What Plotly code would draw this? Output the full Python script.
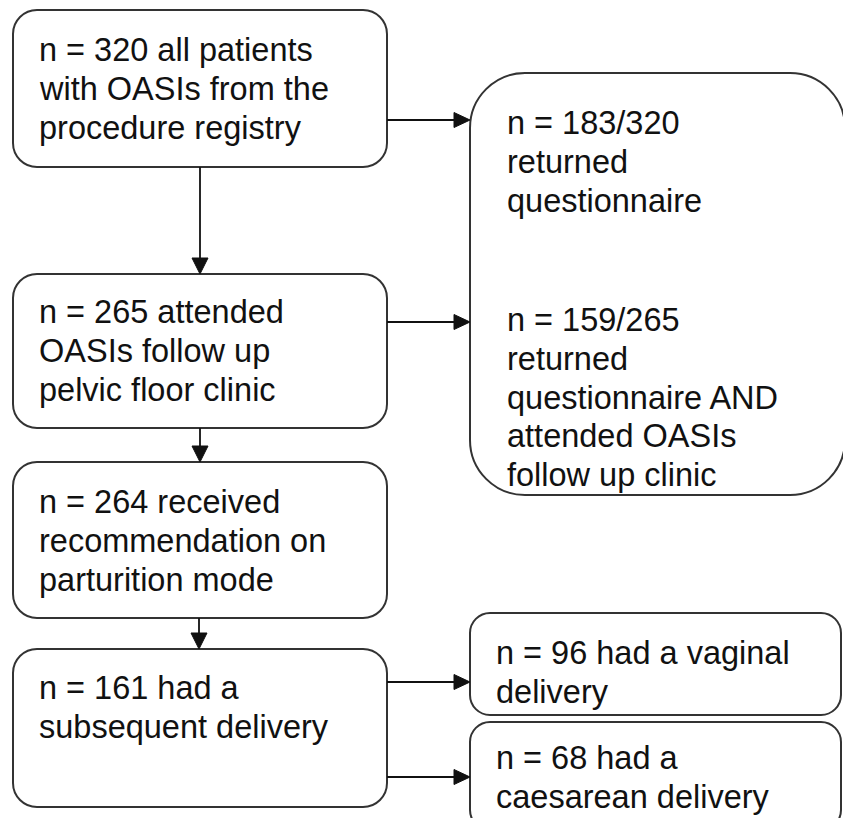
import plotly.graph_objects as go

# ---- data: flowchart content ----
main_texts = [
    ["n = 320 all patients", "with OASIs from the", "procedure registry"],
    ["n = 265 attended", "OASIs follow up", "pelvic floor clinic"],
    ["n = 264 received", "recommendation on", "parturition mode"],
    ["n = 161 had a", "subsequent delivery"],
]
side_texts_q = [
    ["n = 183/320", "returned", "questionnaire"],
    ["n = 159/265", "returned", "questionnaire AND", "attended OASIs", "follow up clinic"],
]
delivery_texts = [
    ["n = 96 had a vaginal", "delivery"],
    ["n = 68 had a", "caesarean delivery"],
]

# ---- layout geometry (pixels, y downward) ----
W, H = 843, 818
main_boxes = [(13, 10, 387, 167), (13, 274, 387, 428), (13, 462, 387, 618), (13, 649, 387, 807)]
main_first_line = [50, 312, 502, 688]
big_box = (470, 73, 845, 495)
big_lines_start = [123, 320]
deliv_boxes = [(470, 613, 841, 715), (470, 722, 841, 830)]
deliv_first_line = [653, 758]
LH = 38.8
FONT = dict(family="Liberation Sans, Arial, sans-serif", size=32.5, color="#111111")
LINE = "#333333"

fig = go.Figure()
shapes = []
annotations = []


def rrect(x0, y0, x1, y1, r):
    k = 0.5523 * r
    return (f"M {x0+r},{y0} L {x1-r},{y0} C {x1-r+k},{y0} {x1},{y0+r-k} {x1},{y0+r} "
            f"L {x1},{y1-r} C {x1},{y1-r+k} {x1-r+k},{y1} {x1-r},{y1} "
            f"L {x0+r},{y1} C {x0+r-k},{y1} {x0},{y1-r+k} {x0},{y1-r} "
            f"L {x0},{y0+r} C {x0},{y0+r-k} {x0+r-k},{y0} {x0+r},{y0} Z")


def add_box(b, r):
    shapes.append(dict(type="path", path=rrect(*b, r), xref="x", yref="y",
                       line=dict(color=LINE, width=2), fillcolor="rgba(0,0,0,0)", layer="above"))


def add_text(lines, x, y0):
    for i, t in enumerate(lines):
        annotations.append(dict(x=x, y=y0 + i * LH, xref="x", yref="y", text=t, showarrow=False,
                                xanchor="left", yanchor="middle", font=FONT))


def arrow_h(x0, x1, y):
    shapes.append(dict(type="line", x0=x0, x1=x1 - 14, y0=y, y1=y, xref="x", yref="y",
                       line=dict(color="#111111", width=1.8)))
    shapes.append(dict(type="path", path=f"M {x1},{y} L {x1-16},{y-7.5} L {x1-16},{y+7.5} Z",
                       xref="x", yref="y", fillcolor="#111111", line=dict(color="#111111", width=1)))


def arrow_v(x, y0, y1):
    shapes.append(dict(type="line", x0=x, x1=x, y0=y0, y1=y1 - 14, xref="x", yref="y",
                       line=dict(color="#111111", width=1.8)))
    shapes.append(dict(type="path", path=f"M {x},{y1} L {x-8},{y1-16} L {x+8},{y1-16} Z",
                       xref="x", yref="y", fillcolor="#111111", line=dict(color="#111111", width=1)))


for b, txt, y0 in zip(main_boxes, main_texts, main_first_line):
    add_box(b, 24)
    add_text(txt, 37, y0)

add_box(big_box, 55)
for txt, y0 in zip(side_texts_q, big_lines_start):
    add_text(txt, 505, y0)

for b, txt, y0 in zip(deliv_boxes, delivery_texts, deliv_first_line):
    add_box(b, 20)
    add_text(txt, 494, y0)

# connectors
arrow_v(200, 167, 274)
arrow_v(200, 428, 462)
arrow_v(199, 618, 649)
arrow_h(387, 470, 120)
arrow_h(387, 470, 322)
arrow_h(387, 470, 682)
arrow_h(387, 470, 777)

fig.update_layout(
    width=W, height=H, margin=dict(l=0, r=0, t=0, b=0),
    paper_bgcolor="white", plot_bgcolor="white",
    xaxis=dict(range=[0, W], visible=False, fixedrange=True),
    yaxis=dict(range=[H, 0], visible=False, fixedrange=True),
    shapes=shapes, annotations=annotations, showlegend=False,
)
fig.write_html("out.html", config={"displayModeBar": False},
               post_script="document.body.style.margin='0';document.body.style.overflow='hidden';")
